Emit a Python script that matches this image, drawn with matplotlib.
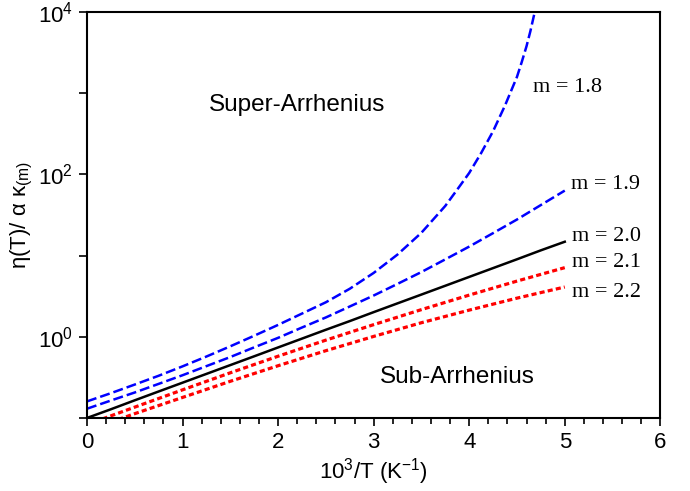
import numpy as np
import matplotlib
matplotlib.use("Agg")
import matplotlib.pyplot as plt

plt.rcParams['font.family'] = 'Liberation Sans'
plt.rcParams['mathtext.fontset'] = 'custom'
plt.rcParams['mathtext.rm'] = 'Liberation Sans'
plt.rcParams['mathtext.it'] = 'Liberation Sans:italic'

# valores (eje y logaritmico)
x_m18 = [0, 0.25, 0.5, 0.75, 1.0, 1.25, 1.5, 1.75, 2.0, 2.25, 2.5, 2.75, 3.0, 3.25,
         3.5, 3.75, 3.875, 4.0, 4.125, 4.25, 4.375, 4.5, 4.55, 4.6, 4.64, 4.68, 4.72]
y_m18 = [0.160, 0.202, 0.258, 0.331, 0.432, 0.571, 0.763, 1.03, 1.40, 1.93, 2.66, 3.90,
         6.11, 10.3, 19.1, 40.9, 65, 104, 183, 340, 706, 1587, 2420, 3790, 5780, 9320, 15700]

x_q = [0, 0.25, 0.5, 0.75, 1.0, 1.25, 1.5, 1.75, 2.0, 2.25, 2.5, 2.75, 3.0, 3.25,
       3.5, 3.75, 4.0, 4.25, 4.5, 4.75, 5.0]
y_m19 = [0.130, 0.164, 0.206, 0.263, 0.336, 0.435, 0.563, 0.741, 0.970, 1.30, 1.73, 2.36,
         3.22, 4.48, 6.27, 8.98, 12.9, 18.9, 27.8, 41.9, 63.1]
y_m20 = [0.1, 0.128, 0.165, 0.212, 0.272, 0.349, 0.448, 0.575, 0.739, 0.949, 1.22, 1.56,
         2.01, 2.58, 3.31, 4.25, 5.46, 7.01, 9.0, 11.6, 14.8]

x_h = [0, 0.5, 1.0, 1.5, 2.0, 2.5, 3.0, 3.5, 4.0, 4.5, 5.0]
y_m21 = [0.0829, 0.136, 0.222, 0.360, 0.576, 0.909, 1.41, 2.16, 3.26, 4.85, 7.10]
y_m22 = [0.0699, 0.113, 0.179, 0.283, 0.440, 0.674, 1.01, 1.49, 2.13, 2.99, 4.10]

etiquetas_m = ['m = 1.8', 'm = 1.9', 'm = 2.0', 'm = 2.1', 'm = 2.2']
pos_etiquetas = [(4.67, 1170), (5.07, 76), (5.08, 17), (5.08, 8.1), (5.08, 3.5)]

fig = plt.figure(figsize=(6.9, 4.91), dpi=100)
ax = fig.add_axes([0.126, 0.1487, 0.831, 0.827])

azul = '#0000ff'
rojo = '#ff0000'
ax.plot(x_m18, y_m18, color=azul, lw=1.8, dashes=(4, 1.6))
ax.plot(x_q, y_m19, color=azul, lw=1.8, dashes=(4, 1.6))
ax.plot(x_q, y_m20, color='black', lw=1.8)
ax.plot(x_h, y_m21, color=rojo, lw=2.3, dashes=(1.6, 1.0))
ax.plot(x_h, y_m22, color=rojo, lw=2.3, dashes=(1.6, 1.0))

ax.set_yscale('log')
ax.set_xlim(0, 6)
ax.set_ylim(0.1, 1e4)

ax.set_yticks([1e-1, 1e0, 1e1, 1e2, 1e3, 1e4])
ax.set_yticklabels(['', r'$\mathregular{10^0}$', '', r'$\mathregular{10^2}$', '',
                    r'$\mathregular{10^4}$'])
ax.yaxis.set_minor_locator(matplotlib.ticker.NullLocator())
ax.set_xticks(np.arange(0, 7, 1))
ax.set_xticks(np.arange(0, 6.01, 0.2), minor=True)

ax.tick_params(which='major', direction='out', length=6, width=1.2, labelsize=16, pad=4)
ax.tick_params(which='minor', direction='out', length=4, width=1.2)
for s in ax.spines.values():
    s.set_linewidth(1.5)

ax.set_xlabel(r'10$^3$/T (K$^{-1}$)', fontsize=16, labelpad=2)
ax.set_ylabel(r'η(T)/ α κ$_{\mathregular{(m)}}$', fontsize=16, labelpad=2)

ax.text(2.2, 720, 'Super-Arrhenius', fontsize=17.5, ha='center', va='center')
ax.text(3.88, 0.32, 'Sub-Arrhenius', fontsize=17.5, ha='center', va='center')

for texto, (px, py) in zip(etiquetas_m, pos_etiquetas):
    ax.text(px, py, texto, family='Liberation Serif', fontsize=16, ha='left', va='center')

fig.savefig('out.png', dpi=100)
